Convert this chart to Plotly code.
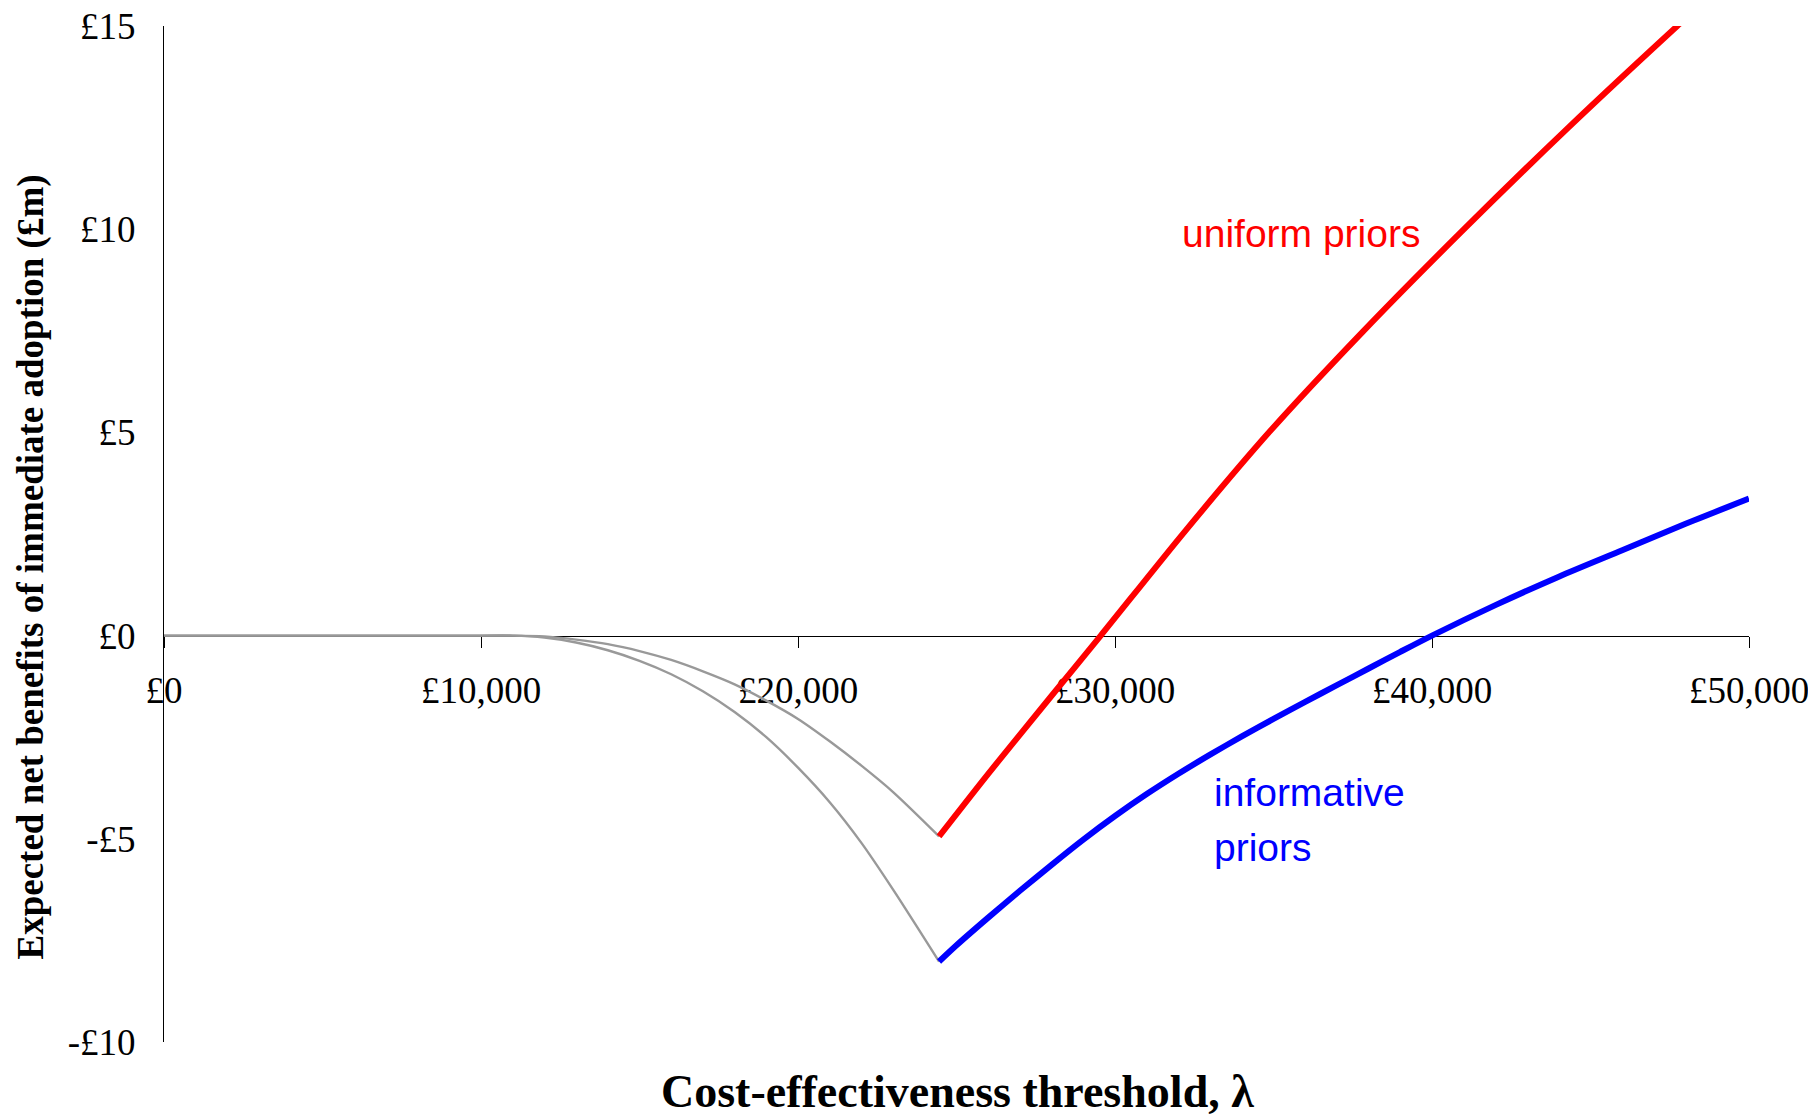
import plotly.graph_objects as go

# ---- data ----
lam_gray_uniform = [0, 4000, 8000, 10000, 11000, 12000, 13000, 14000, 15000, 16000, 17000, 18000, 19000,
                    20000, 21000, 22000, 23000, 24450]
nb_gray_uniform = [0, 0, 0, 0, 0, -0.02, -0.10, -0.21, -0.38, -0.60, -0.88, -1.20, -1.60,
                   -2.05, -2.60, -3.20, -3.85, -4.94]

lam_gray_inform = [0, 4000, 8000, 10000, 11000, 12000, 13000, 14000, 15000, 16000, 17000, 18000, 19000,
                   20000, 21000, 22000, 23000, 24450]
nb_gray_inform = [0, 0, 0, 0, 0, -0.05, -0.17, -0.36, -0.62, -0.95, -1.37, -1.88, -2.50,
                  -3.25, -4.10, -5.10, -6.25, -8.02]

lam_uniform = [24450, 26000, 28000, 29550, 32200, 34880, 37820, 40930, 44300, 47737, 50000]
nb_uniform = [-4.94, -3.40, -1.48, 0.0, 2.56, 5.02, 7.48, 9.94, 12.50, 15.00, 16.60]

lam_inform = [24450, 25000, 26000, 27000, 28000, 29000, 30000, 31000, 32000, 33000, 34000, 35000, 36000,
              37000, 38000, 39000, 40000, 42000, 44000, 46000, 48000, 50000]
nb_inform = [-8.02, -7.62, -6.94, -6.28, -5.64, -5.02, -4.44, -3.90, -3.40, -2.93, -2.48, -2.05, -1.63,
             -1.22, -0.81, -0.40, 0.0, 0.75, 1.45, 2.10, 2.75, 3.37]

x_tickvals = [0, 10000, 20000, 30000, 40000, 50000]
x_ticktext = ["£0", "£10,000", "£20,000", "£30,000", "£40,000", "£50,000"]
y_tickvals = [15, 10, 5, 0, -5, -10]
y_ticktext = ["£15", "£10", "£5", "£0", "-£5", "-£10"]

label_uniform = "uniform priors"
label_inform_1 = "informative"
label_inform_2 = "priors"
x_title = "Cost-effectiveness threshold, λ"
y_title = "Expected net benefits of immediate adoption (£m)"

SERIF = "Liberation Serif, Times New Roman, serif"
SANS = "Liberation Sans, Arial, sans-serif"

fig = go.Figure()
fig.add_trace(go.Scatter(x=lam_gray_uniform, y=nb_gray_uniform, mode="lines",
                         line=dict(color="#999999", width=2.4, shape="spline", smoothing=0.8),
                         showlegend=False))
fig.add_trace(go.Scatter(x=lam_gray_inform, y=nb_gray_inform, mode="lines",
                         line=dict(color="#999999", width=2.4, shape="spline", smoothing=0.8),
                         showlegend=False))
fig.add_trace(go.Scatter(x=lam_uniform, y=nb_uniform, mode="lines",
                         line=dict(color="#FF0000", width=6, shape="spline", smoothing=0.8),
                         showlegend=False))
fig.add_trace(go.Scatter(x=lam_inform, y=nb_inform, mode="lines",
                         line=dict(color="#0000FF", width=6, shape="spline", smoothing=0.8),
                         showlegend=False))

fig.add_annotation(x=32050, y=9.9, xref="x", yref="y", text=label_uniform, showarrow=False,
                   xanchor="left", yanchor="middle", font=dict(family=SANS, size=39, color="#FF0000"))
fig.add_annotation(x=33050, y=-3.85, xref="x", yref="y", text=label_inform_1, showarrow=False,
                   xanchor="left", yanchor="middle", font=dict(family=SANS, size=39, color="#0000FF"))
fig.add_annotation(x=33050, y=-5.21, xref="x", yref="y", text=label_inform_2, showarrow=False,
                   xanchor="left", yanchor="middle", font=dict(family=SANS, size=39, color="#0000FF"))

fig.add_annotation(x=0.5006, y=-0.049, xref="paper", yref="paper", text="<b>" + x_title + "</b>",
                   showarrow=False, xanchor="center", yanchor="middle",
                   font=dict(family=SERIF, size=46, color="black"))
fig.add_annotation(x=-0.0839, y=0.467, xref="paper", yref="paper", text="<b>" + y_title + "</b>",
                   showarrow=False, xanchor="center", yanchor="middle", textangle=-90,
                   font=dict(family=SERIF, size=37, color="black"))

fig.update_layout(
    width=1816, height=1118,
    margin=dict(l=156, r=75, t=18, b=84, autoexpand=False),
    paper_bgcolor="white", plot_bgcolor="white",
    showlegend=False,
    xaxis=dict(range=[0, 50000], tickvals=x_tickvals, ticktext=x_ticktext,
               anchor="free", position=0.4, showgrid=False, zeroline=False, automargin=False,
               showline=True, linecolor="black", linewidth=1,
               ticks="outside", ticklen=11, tickcolor="black", tickwidth=1,
               ticklabelstandoff=11, layer="below traces", ticklabeloverflow="allow",
               tickfont=dict(family=SERIF, size=37, color="black")),
    yaxis=dict(range=[-10, 15], tickvals=y_tickvals, ticktext=y_ticktext, automargin=False,
               showgrid=False, zeroline=False, showline=True, linecolor="black", linewidth=1,
               ticks="", ticklabelstandoff=20, layer="below traces", ticklabeloverflow="allow",
               tickfont=dict(family=SERIF, size=37, color="black")),
)

fig.write_html("out.html")
